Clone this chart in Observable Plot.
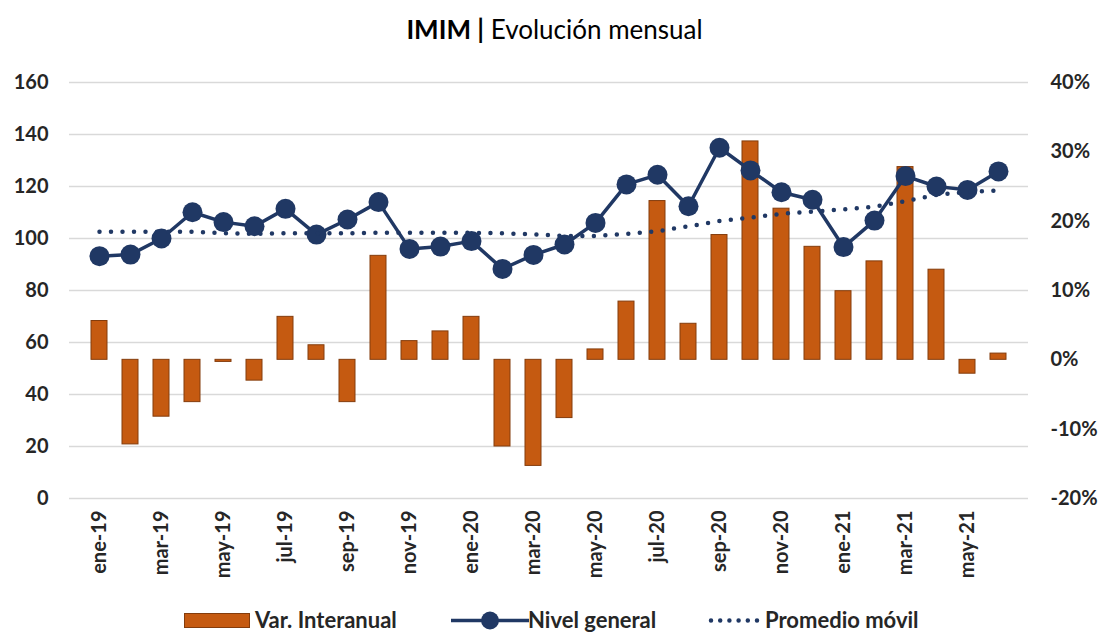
<!DOCTYPE html>
<html>
<head>
<meta charset="utf-8">
<script src="https://cdn.jsdelivr.net/npm/d3@7"></script>
<script src="https://cdn.jsdelivr.net/npm/@observablehq/plot@0.6"></script>
<style>
  html, body { margin: 0; padding: 0; background: #fff; }
  #wrap { position: relative; width: 1101px; height: 636px; overflow: hidden; font-family: Lato, "Open Sans", sans-serif; }
  #title { height: 56px; text-align: center; font-size: 26px; line-height: 58px; color: #000; padding-left: 8px; box-sizing: border-box; }
  #title b { font-weight: 700; }
  #legend { position: relative; height: 32px; font-size: 22px; font-weight: 700; color: #262626; }
  #legend .it { position: absolute; top: 0; height: 32px; line-height: 32px; white-space: nowrap; }
</style>
</head>
<body>
<div id="wrap">
  <div id="title"><b>IMIM |</b> Evolución mensual</div>
  <div id="chart"></div>
  <div id="legend"></div>
</div>
<script>
const months = ["ene-19","feb-19","mar-19","abr-19","may-19","jun-19","jul-19","ago-19","sep-19","oct-19","nov-19","dic-19",
                "ene-20","feb-20","mar-20","abr-20","may-20","jun-20","jul-20","ago-20","sep-20","oct-20","nov-20","dic-20",
                "ene-21","feb-21","mar-21","abr-21","may-21","jun-21"];
const xTickLabels = ["ene-19","mar-19","may-19","jul-19","sep-19","nov-19","ene-20","mar-20","may-20","jul-20","sep-20","nov-20","ene-21","mar-21","may-21"];
const nivelGeneral = [93.2, 93.8, 100.0, 110.1, 106.3, 104.7, 111.4, 101.5, 107.3, 114.0, 96.0, 96.9,
                      99.0, 88.3, 93.7, 97.7, 106.0, 120.8, 124.5, 112.4, 134.9, 126.2, 117.8, 114.9,
                      96.7, 106.9, 124.0, 120.0, 118.7, 125.8];
const promedioMovil = [102.6, 102.6, 102.6, 102.6, 102.0, 101.8, 102.0, 102.0, 102.0, 102.2, 102.2, 102.2,
                       102.2, 102.0, 101.6, 101.0, 101.0, 101.8, 102.8, 104.7, 106.7, 108.0, 109.5, 110.3,
                       111.2, 112.2, 114.4, 116.8, 117.9, 118.5];
const varInteranual = [5.6, -12.2, -8.2, -6.1, -0.3, -3.0, 6.2, 2.1, -6.1, 15.0, 2.7, 4.1,
                       6.2, -12.5, -15.3, -8.4, 1.5, 8.4, 22.9, 5.2, 18.0, 31.5, 21.8, 16.3,
                       9.9, 14.2, 27.8, 13.0, -2.0, 0.9];
const leftTicks = [0, 20, 40, 60, 80, 100, 120, 140, 160];
const rightTicks = [-20, -10, 0, 10, 20, 30, 40];

// right (percent) axis mapped onto the left axis range
const pctMin = -20, pctMax = 40, leftMax = 160;
const toLeft = p => (p - pctMin) * leftMax / (pctMax - pctMin);
const fromLeft = v => v * (pctMax - pctMin) / leftMax + pctMin;

const table = months.map((m, i) => ({mes: m, nivel: nivelGeneral[i], prom: promedioMovil[i], var: varInteranual[i]}));

const navy = "#203864", orange = "#C55A11", orangeDark = "#843C0C";

const chart = Plot.plot({
  width: 1101,
  height: 548,
  marginTop: 26,
  marginBottom: 106,
  marginLeft: 69,
  marginRight: 73,
  style: {fontFamily: "Lato, sans-serif", fontSize: "20px", fontWeight: "bold", color: "#262626", background: "white", overflow: "visible"},
  x: {type: "band", domain: months, paddingInner: 0.5, paddingOuter: 0.25, label: null},
  y: {domain: [0, 160], label: null},
  marks: [
    Plot.gridY(leftTicks, {stroke: "#d9d9d9", strokeOpacity: 1, strokeWidth: 1.5}),
    Plot.axisY(leftTicks, {anchor: "left", tickSize: 0, tickPadding: 21, label: null}),
    Plot.axisY(rightTicks.map(toLeft), {anchor: "right", tickSize: 0, tickPadding: 22, label: null,
      tickFormat: d => `${Math.round(fromLeft(d))}%`}),
    Plot.axisX(xTickLabels, {anchor: "bottom", tickSize: 0, tickPadding: 12, tickRotate: -90, label: null}),
    Plot.barY(table, {x: "mes", y1: () => toLeft(0), y2: d => toLeft(d.var), fill: orange, stroke: orangeDark, strokeWidth: 1}),
    Plot.line(table, {x: "mes", y: "nivel", stroke: navy, strokeWidth: 3.5}),
    Plot.dot(table, {x: "mes", y: "nivel", r: 10, fill: navy, stroke: "none"}),
    Plot.line(table, {x: "mes", y: "prom", stroke: navy, strokeWidth: 4.5, strokeDasharray: "0 11.5", strokeLinecap: "round"})
  ]
});
document.getElementById("chart").appendChild(chart);

// legend
const legend = document.getElementById("legend");
legend.innerHTML = `
  <div class="it" style="left:184px"><svg width="66" height="32" style="vertical-align:top"><rect x="0.5" y="9.5" width="65" height="14" fill="${orange}" stroke="${orangeDark}"/></svg></div>
  <div class="it" style="left:255px">Var. Interanual</div>
  <div class="it" style="left:451px"><svg width="78" height="32" style="vertical-align:top"><line x1="0" x2="78" y1="16.5" y2="16.5" stroke="${navy}" stroke-width="3.5"/><circle cx="39" cy="16.5" r="9" fill="${navy}"/></svg></div>
  <div class="it" style="left:528px">Nivel general</div>
  <div class="it" style="left:708px"><svg width="52" height="32" style="vertical-align:top"><line x1="3" x2="50" y1="16.5" y2="16.5" stroke="${navy}" stroke-width="4.5" stroke-dasharray="0 9.2" stroke-linecap="round"/></svg></div>
  <div class="it" style="left:765px">Promedio móvil</div>`;
</script>
</body>
</html>
